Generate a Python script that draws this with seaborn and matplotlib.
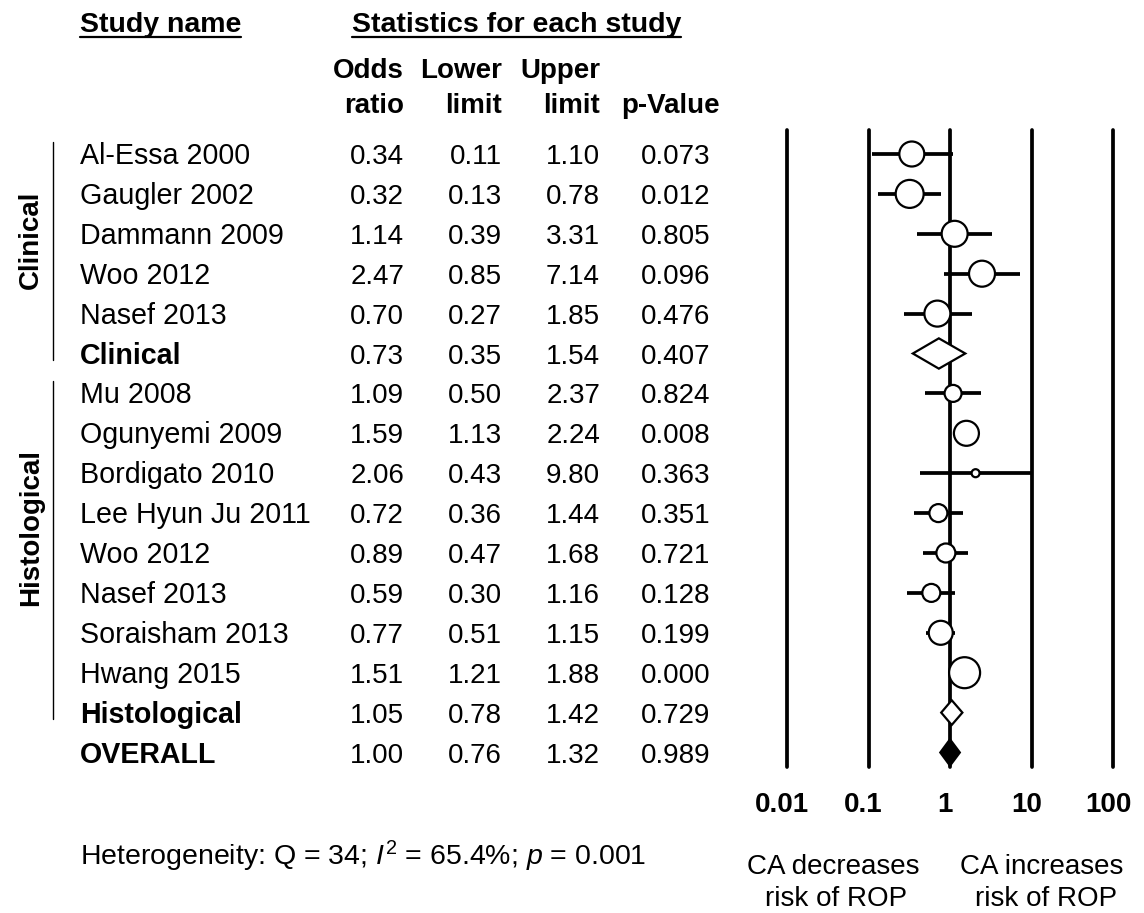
import numpy as np
import pandas as pd
import matplotlib
matplotlib.use("Agg")
import matplotlib.pyplot as plt
from matplotlib.lines import Line2D
from matplotlib.ticker import NullLocator
import matplotlib.transforms as mtransforms
import seaborn as sns

# ---------------- data ----------------
study_names = ["Al-Essa 2000", "Gaugler 2002", "Dammann 2009", "Woo 2012", "Nasef 2013",
               "Clinical",
               "Mu 2008", "Ogunyemi 2009", "Bordigato 2010", "Lee Hyun Ju 2011", "Woo 2012",
               "Nasef 2013", "Soraisham 2013", "Hwang 2015",
               "Histological", "OVERALL"]
row_kind = ["study"] * 5 + ["subtotal"] + ["study"] * 8 + ["subtotal", "overall"]
odds_ratio = [0.34, 0.32, 1.14, 2.47, 0.70, 0.73, 1.09, 1.59, 2.06, 0.72, 0.89, 0.59, 0.77, 1.51, 1.05, 1.00]
lower_limit = [0.11, 0.13, 0.39, 0.85, 0.27, 0.35, 0.50, 1.13, 0.43, 0.36, 0.47, 0.30, 0.51, 1.21, 0.78, 0.76]
upper_limit = [1.10, 0.78, 3.31, 7.14, 1.85, 1.54, 2.37, 2.24, 9.80, 1.44, 1.68, 1.16, 1.15, 1.88, 1.42, 1.32]
p_values = ["0.073", "0.012", "0.805", "0.096", "0.476", "0.407", "0.824", "0.008", "0.363",
            "0.351", "0.721", "0.128", "0.199", "0.000", "0.729", "0.989"]
# relative study weight (shown as marker diameter) for the 13 individual studies
study_weight = [25, 28, 26, 26, 26, 17, 25, 8, 18, 19, 18, 24, 31]
group_names = ["Clinical", "Histological"]
tick_values = [0.01, 0.1, 1, 10, 100]
tick_labels = ["0.01", "0.1", "1", "10", "100"]

# ---------------- setup ----------------
sns.set_theme(style="white")
plt.rcParams["font.family"] = ["Liberation Sans", "DejaVu Sans"]
plt.rcParams["mathtext.fontset"] = "custom"
plt.rcParams["mathtext.rm"] = "Liberation Sans"
plt.rcParams["mathtext.it"] = "Liberation Sans:italic"
plt.rcParams["text.color"] = "black"
plt.rcParams["xtick.color"] = "black"
plt.rcParams["xtick.labelcolor"] = "black"

W, H = 1144, 913
fig = plt.figure(figsize=(W / 100, H / 100), dpi=100)
fig.patch.set_facecolor("white")

ROW0, ROWSTEP = 154.0, 39.9
TOP, BOT = 130.0, 767.0
XL, XR = 787.0, 1113.0
n = len(study_names)

ax = fig.add_axes([XL / W, 1 - BOT / H, (XR - XL) / W, (BOT - TOP) / H])
ax.set_xscale("log")
ax.set_xlim(0.01, 100)
ax.set_ylim((BOT - ROW0) / ROWSTEP, (TOP - ROW0) / ROWSTEP)
for s in ax.spines.values():
    s.set_visible(False)
ax.set_yticks([])
ax.xaxis.set_minor_locator(NullLocator())
ax.set_xticks(tick_values)
ax.set_xticklabels(tick_labels, fontweight="bold", fontsize=20, color="black")
ax.tick_params(axis="x", length=0, pad=18, colors="black")
off = mtransforms.ScaledTranslation(-5 / 100, 0, fig.dpi_scale_trans)
for lab in ax.get_xticklabels():
    lab.set_transform(lab.get_transform() + off)
ax.patch.set_alpha(0)

for t in tick_values:
    ax.axvline(t, color="black", lw=2.7, zorder=1, clip_on=False)

df = pd.DataFrame({"name": study_names, "kind": row_kind, "or": odds_ratio,
                   "lo": lower_limit, "hi": upper_limit, "row": np.arange(n)})
studies = df[df["kind"] == "study"].copy()
studies["w"] = study_weight

# CI lines
ax.hlines(studies["row"], studies["lo"], studies["hi"], color="black", lw=2.7, zorder=2)
# study markers (diameter px -> points^2)
sizes = [(d * 0.72) ** 2 for d in studies["w"]]
sns.scatterplot(data=studies, x="or", y="row", s=sizes, marker="o", facecolor="white",
                edgecolor="black", linewidth=1.6, zorder=3, ax=ax, legend=False)
ax.set_xlabel("")
ax.set_ylabel("")

# summary diamonds
for _, r in df[df["kind"] != "study"].iterrows():
    if r["kind"] == "overall":
        hh, fc = 0.33, "black"
    elif r["name"] == "Clinical":
        hh, fc = 0.38, "white"
    else:
        hh, fc = 0.31, "white"
    ax.fill([r["lo"], r["or"], r["hi"], r["or"]],
            [r["row"], r["row"] - hh, r["row"], r["row"] + hh],
            facecolor=fc, edgecolor="black", lw=1.6, zorder=3)


# ---------------- text table ----------------
def ftext(x, y, s, **kw):
    kw.setdefault("color", "black")
    return fig.text(x / W, 1 - y / H, s, **kw)


FS = 20
hdr1 = ftext(80, 32, "Study name", fontsize=20.5, fontweight="bold", va="baseline", ha="left")
hdr2 = ftext(352, 32, "Statistics for each study", fontsize=20.5, fontweight="bold",
             va="baseline", ha="left")
fig.canvas.draw()
rend = fig.canvas.get_renderer()
for h in (hdr1, hdr2):
    bb = h.get_window_extent(rend)
    fig.add_artist(Line2D([bb.x0 / W, bb.x1 / W], [1 - 37 / H] * 2,
                          transform=fig.transFigure, color="black", lw=1.6))

col_right = [404, 502, 600, 710]
col_head1 = ["Odds", "Lower", "Upper", ""]
col_head2 = ["ratio", "limit", "limit", "p-Value"]
for x, a, b in zip(col_right, col_head1, col_head2):
    if a:
        ftext(x, 78, a, fontsize=FS, fontweight="bold", ha="right", va="baseline")
    ftext(x + (10 if b == "p-Value" else 0), 113, b, fontsize=FS, fontweight="bold",
          ha="right", va="baseline")

for i in range(n):
    yb = ROW0 + ROWSTEP * i + 10
    bold = "bold" if row_kind[i] != "study" else "normal"
    ftext(80, yb, study_names[i], fontsize=20.6, fontweight=bold, ha="left", va="baseline")
    vals = [f"{odds_ratio[i]:.2f}", f"{lower_limit[i]:.2f}", f"{upper_limit[i]:.2f}", p_values[i]]
    for x, v in zip(col_right, vals):
        ftext(x, yb, v, fontsize=FS, ha="right", va="baseline")

# group brackets and labels
groups_rows = [(0, 5), (6, 14)]
for g, (a, b) in zip(group_names, groups_rows):
    y0 = ROW0 + ROWSTEP * a - 12
    y1 = ROW0 + ROWSTEP * b + 6
    fig.add_artist(Line2D([53 / W, 53 / W], [1 - y0 / H, 1 - y1 / H],
                          transform=fig.transFigure, color="black", lw=1.0))
    yc = 240 if g == "Clinical" else 528
    ftext(38, yc, g, fontsize=FS, fontweight="bold", rotation=90,
          rotation_mode="anchor", ha="center", va="baseline")

ftext(80, 865, r"Heterogeneity: Q = 34; $I^2$ = 65.4%; $p$ = 0.001", fontsize=20.5,
      ha="left", va="baseline")

ftext(833, 874, "CA decreases", fontsize=FS, ha="center", va="baseline")
ftext(836, 906, "risk of ROP", fontsize=FS, ha="center", va="baseline")
ftext(1042, 874, "CA increases", fontsize=FS, ha="center", va="baseline")
ftext(1046, 906, "risk of ROP", fontsize=FS, ha="center", va="baseline")

fig.savefig("out.png", dpi=100, facecolor="white")
